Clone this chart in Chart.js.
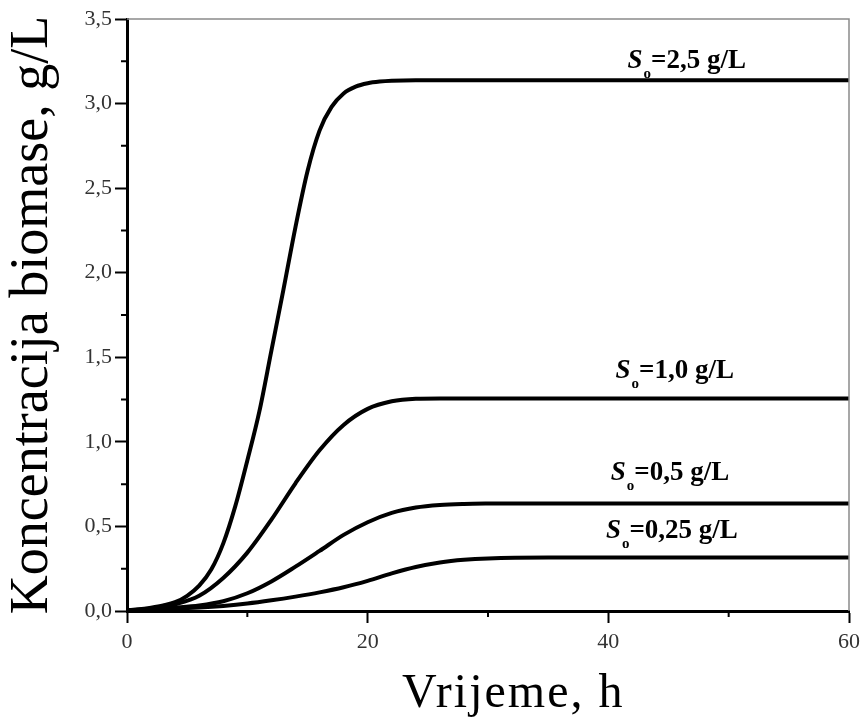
<!DOCTYPE html>
<html><head><meta charset="utf-8">
<script src="https://cdn.jsdelivr.net/npm/chart.js@4.4.1/dist/chart.umd.min.js"></script>
<style>html,body{margin:0;padding:0;background:#fff;} canvas{display:block}</style>
</head><body>
<canvas id="c" width="866" height="721"></canvas>
<script>
// time points (h)
const timeFast = [0,1,2,3,4,5,6,7,8,9,10,11,12,13,14,15,16,17,18,19,20,21,22,24,30,40,50,60];
const conc25  = [0.005,0.01,0.02,0.033,0.052,0.09,0.15,0.245,0.40,0.62,0.89,1.18,1.54,1.90,2.27,2.60,2.84,2.98,3.06,3.10,3.12,3.13,3.135,3.138,3.138,3.138,3.138,3.138];
const timeSlow = [0,2,4,6,8,10,12,14,16,18,20,22,24,26,28,30,35,40,50,60];
const conc10  = [0.005,0.012,0.04,0.09,0.195,0.345,0.54,0.755,0.95,1.10,1.195,1.24,1.255,1.257,1.257,1.257,1.257,1.257,1.257,1.257];
const conc05  = [0.005,0.01,0.02,0.033,0.058,0.105,0.175,0.262,0.355,0.45,0.525,0.58,0.612,0.627,0.633,0.635,0.636,0.636,0.636,0.636];
const conc025 = [0.005,0.008,0.013,0.02,0.03,0.044,0.063,0.085,0.11,0.14,0.178,0.222,0.26,0.287,0.303,0.311,0.316,0.316,0.316,0.316];
const seriesValues = ['=2,5 g/L','=1,0 g/L','=0,5 g/L','=0,25 g/L'];
const labelAnchorT = [41.6, 40.6, 40.2, 39.8];
const labelBaseY   = [3.213, 1.375, 0.774, 0.431];
const yTickLabels = ['0,0','0,5','1,0','1,5','2,0','2,5','3,0','3,5'];
const xTickLabels = ['0','20','40','60'];
const xTitle = 'Vrijeme, h';
const yTitle = 'Koncentracija biomase, g/L';

const toXY = (ts, vs) => ts.map((t, i) => ({x: t, y: vs[i]}));
const mkSet = (ts, vs) => ({data: toXY(ts, vs), borderColor:'#000', borderWidth:4, pointRadius:0, cubicInterpolationMode:'monotone', fill:false});

const serif = "'Liberation Serif', 'Times New Roman', serif";

const extras = {
  id: 'extras',
  afterDraw(chart) {
    const {ctx, chartArea: a, scales: {x, y}} = chart;
    ctx.save();
    // thin top and right frame
    ctx.strokeStyle = '#8a8a8a';
    ctx.lineWidth = 1.5;
    ctx.beginPath();
    ctx.moveTo(a.left, a.top); ctx.lineTo(a.right, a.top); ctx.lineTo(a.right, a.bottom);
    ctx.stroke();
    // minor ticks
    ctx.strokeStyle = '#000';
    ctx.lineWidth = 2;
    ctx.beginPath();
    for (let v = 0.25; v < 3.5; v += 0.5) {
      const py = y.getPixelForValue(v);
      ctx.moveTo(a.left - 6, py); ctx.lineTo(a.left, py);
    }
    for (let v = 10; v < 60; v += 20) {
      const px = x.getPixelForValue(v);
      ctx.moveTo(px, a.bottom); ctx.lineTo(px, a.bottom + 6);
    }
    ctx.stroke();
    // x axis title
    ctx.fillStyle = '#000';
    ctx.font = `48px ${serif}`;
    ctx.textAlign = 'center';
    ctx.textBaseline = 'alphabetic';
    if ('letterSpacing' in ctx) ctx.letterSpacing = '2px';
    ctx.fillText(xTitle, a.left + (a.right - a.left) * 0.535, chart.height - 14);
    if ('letterSpacing' in ctx) ctx.letterSpacing = '0px';
    // curve labels
    ctx.textAlign = 'left';
    seriesValues.forEach((txt, i) => {
      let px = x.getPixelForValue(labelAnchorT[i]);
      const py = y.getPixelForValue(labelBaseY[i]);
      ctx.font = `italic bold 27px ${serif}`;
      ctx.fillText('S', px, py);
      px += ctx.measureText('S').width + 1;
      ctx.font = `bold 15px ${serif}`;
      ctx.fillText('o', px, py + 10);
      px += ctx.measureText('o').width;
      ctx.font = `bold 27px ${serif}`;
      ctx.fillText(txt, px, py);
    });
    ctx.restore();
  }
};

new Chart(document.getElementById('c'), {
  type: 'line',
  data: {
    datasets: [
      mkSet(timeFast, conc25),
      mkSet(timeSlow, conc10),
      mkSet(timeSlow, conc05),
      mkSet(timeSlow, conc025)
    ]
  },
  options: {
    responsive: false,
    animation: false,
    layout: {padding: {top: 19, right: 13, left: 0, bottom: 0}},
    plugins: {legend: {display: false}, tooltip: {enabled: false}},
    scales: {
      x: {
        type: 'linear', min: 0, max: 60,
        afterFit: s => { s.height = 110; },
        border: {color: '#000', width: 3},
        grid: {display: true, drawOnChartArea: false, drawTicks: true, tickLength: 12, tickWidth: 2, tickColor: '#000'},
        ticks: {stepSize: 20, padding: 6, color: '#333', font: {family: serif, size: 22},
                callback: (v) => xTickLabels[Math.round(v / 20)] ?? ''},
        title: {display: false, text: xTitle}
      },
      y: {
        type: 'linear', min: 0, max: 3.5,
        afterFit: s => { s.width = 127; },
        border: {color: '#000', width: 3},
        grid: {display: true, drawOnChartArea: false, drawTicks: true, tickLength: 12, tickWidth: 2, tickColor: '#000'},
        ticks: {stepSize: 0.5, padding: 3, color: '#333', font: {family: serif, size: 22},
                callback: (v) => yTickLabels[Math.round(v / 0.5)] ?? ''},
        title: {display: true, text: yTitle, color: '#000', font: {family: serif, size: 54, lineHeight: 1}, padding: {top: 6}}
      }
    }
  },
  plugins: [extras]
});
</script>
</body></html>
